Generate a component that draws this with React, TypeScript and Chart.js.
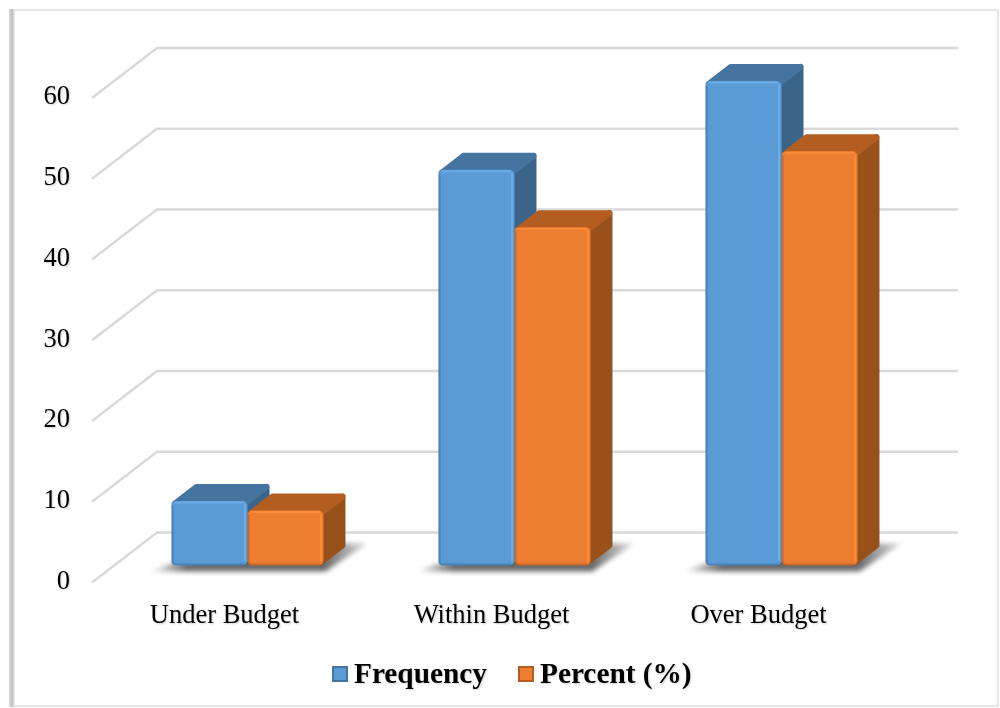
import React, { useEffect, useRef } from "react";
import { Chart, registerables } from "chart.js";

Chart.register(...registerables);

const categories = ["Under Budget", "Within Budget", "Over Budget"];
const frequency = [8, 49, 60];
const percent = [6.8, 41.9, 51.3];
const yTicks = [0, 10, 20, 30, 40, 50, 60];

const SERIF = '"Liberation Serif", serif';
const DEPTH_X = 23;
const DEPTH_Y = 18;
const WALL_X = 65;
const WALL_Y = 50;
const FLOOR_DROP = 17;

const palette = [
  {
    front: "#5b9bd5",
    top: "#44749f",
    side: "#3c6489",
    light: "rgba(112,180,240,0.7)",
    dark: "rgba(58,110,160,0.55)",
  },
  {
    front: "#ed7d31",
    top: "#b35e20",
    side: "#99511a",
    light: "rgba(255,146,60,0.75)",
    dark: "rgba(176,88,30,0.55)",
  },
];

// Outer frame of the figure.
const framePlugin = {
  id: "frame",
  beforeDraw(chart: any) {
    const { ctx } = chart;
    ctx.save();
    ctx.fillStyle = "#e6e6e6";
    ctx.fillRect(10, 9, 988, 2);
    ctx.fillRect(997, 9, 2, 698);
    ctx.fillRect(10, 705, 988, 2);
    const g = ctx.createLinearGradient(9, 0, 15, 0);
    g.addColorStop(0, "#e0e0e0");
    g.addColorStop(0.5, "#bdbdbd");
    g.addColorStop(1, "#f0f0f0");
    ctx.fillStyle = g;
    ctx.fillRect(9, 9, 6, 698);
    ctx.restore();
    // soft shadow behind the axis text
    ctx.save();
    ctx.shadowColor = "rgba(0,0,0,0.2)";
    ctx.shadowBlur = 2;
    ctx.shadowOffsetX = 1;
    ctx.shadowOffsetY = 1;
  },
};

// Back wall, side wall, floor shadows and the depth faces of each bar.
const depthPlugin = {
  id: "depth",
  beforeDatasetsDraw(chart: any) {
    const { ctx, chartArea, scales } = chart;
    ctx.restore();
    ctx.save();
    ctx.strokeStyle = "#d9d9d9";
    ctx.lineWidth = 2.4;
    ctx.lineJoin = "miter";
    yTicks.forEach((v) => {
      const fy = scales.y.getPixelForValue(v) + FLOOR_DROP;
      const fx = chartArea.left - 22;
      ctx.beginPath();
      ctx.moveTo(fx, fy);
      ctx.lineTo(fx + WALL_X, fy - WALL_Y);
      ctx.lineTo(958, fy - WALL_Y);
      ctx.stroke();
    });
    ctx.restore();

    const metas = [chart.getDatasetMeta(0), chart.getDatasetMeta(1)];

    categories.forEach((_, i) => {
      const a = metas[0].data[i];
      const b = metas[1].data[i];
      const x0 = a.x - a.width / 2;
      const x1 = b.x + b.width / 2;
      const base = a.base;
      ctx.save();
      ctx.filter = "blur(2.5px)";
      const g = ctx.createLinearGradient(x0 - 24, 0, x1 + 44, 0);
      g.addColorStop(0, "rgba(105,105,105,0)");
      g.addColorStop(0.18, "rgba(105,105,105,1)");
      g.addColorStop(0.8, "rgba(105,105,105,1)");
      g.addColorStop(1, "rgba(105,105,105,0.2)");
      ctx.fillStyle = g;
      ctx.beginPath();
      ctx.moveTo(x0 - 22, base + 6);
      ctx.lineTo(x1 + 2, base + 6);
      ctx.lineTo(x1 + 44, base - 22);
      ctx.lineTo(x1, base - 22);
      ctx.lineTo(x0, base - 2);
      ctx.closePath();
      ctx.fill();
      ctx.restore();
    });

    ctx.save();
    ctx.lineJoin = "round";
    ctx.lineWidth = 6;
    metas.forEach((meta, d) => {
      const c = palette[d];
      meta.data.forEach((el: any) => {
        const l = el.x - el.width / 2 + 3;
        const r = el.x + el.width / 2 - 3;
        const t = el.y + 3;
        const bt = el.base - 3;
        ctx.fillStyle = c.side;
        ctx.strokeStyle = c.side;
        ctx.beginPath();
        ctx.moveTo(r, t);
        ctx.lineTo(r + DEPTH_X - 1, t - DEPTH_Y + 1);
        ctx.lineTo(r + DEPTH_X - 1, bt - DEPTH_Y + 1);
        ctx.lineTo(r, bt);
        ctx.closePath();
        ctx.fill();
        ctx.stroke();
        ctx.fillStyle = c.top;
        ctx.strokeStyle = c.top;
        ctx.beginPath();
        ctx.moveTo(l, t);
        ctx.lineTo(l + DEPTH_X - 1, t - DEPTH_Y + 1);
        ctx.lineTo(r + DEPTH_X - 1, t - DEPTH_Y + 1);
        ctx.lineTo(r, t);
        ctx.closePath();
        ctx.fill();
        ctx.stroke();
      });
    });
    ctx.restore();
  },
  // Bevelled edges on the front faces, then the legend.
  afterDatasetsDraw(chart: any) {
    const { ctx } = chart;
    ctx.save();
    [0, 1].forEach((d) => {
      const c = palette[d];
      chart.getDatasetMeta(d).data.forEach((el: any) => {
        const l = el.x - el.width / 2;
        const r = el.x + el.width / 2 - 1;
        ctx.lineWidth = 2;
        ctx.lineCap = "round";
        ctx.strokeStyle = c.light;
        ctx.beginPath();
        ctx.moveTo(l + 4, el.y + 1.5);
        ctx.lineTo(r - 3, el.y + 1.5);
        ctx.moveTo(r - 1.5, el.y + 4);
        ctx.lineTo(r - 1.5, el.base - 5);
        ctx.stroke();
        ctx.strokeStyle = c.dark;
        ctx.beginPath();
        ctx.moveTo(l + 1, el.y + 5);
        ctx.lineTo(l + 1, el.base - 4);
        ctx.quadraticCurveTo(l + 1, el.base - 1, l + 4, el.base - 1);
        ctx.lineTo(r - 3, el.base - 1);
        ctx.stroke();
      });
    });
    ctx.restore();

    const entries = [
      { boxX: 332, textX: 354 },
      { boxX: 518, textX: 540 },
    ];
    ctx.save();
    ctx.shadowColor = "rgba(0,0,0,0.18)";
    ctx.shadowBlur = 2;
    ctx.shadowOffsetX = 1;
    ctx.shadowOffsetY = 1;
    ctx.font = `bold 29.3px ${SERIF}`;
    ctx.fillStyle = "#000";
    ctx.textBaseline = "alphabetic";
    entries.forEach((e, d) => {
      ctx.fillText(chart.data.datasets[d].label, e.textX, 683);
    });
    ctx.shadowColor = "transparent";
    entries.forEach((e, d) => {
      const c = palette[d];
      ctx.fillStyle = c.top;
      ctx.fillRect(e.boxX, 666, 16, 16);
      ctx.fillStyle = c.front;
      ctx.fillRect(e.boxX + 2, 668, 12, 12);
    });
    ctx.restore();
  },
};

export default function App() {
  const ref = useRef<HTMLCanvasElement>(null);

  useEffect(() => {
    const chart = new Chart(ref.current as HTMLCanvasElement, {
      type: "bar",
      data: {
        labels: categories,
        datasets: [
          {
            label: "Frequency",
            data: frequency,
            backgroundColor: palette[0].front,
            borderRadius: 5,
            borderSkipped: false,
          },
          {
            label: "Percent (%)",
            data: percent,
            backgroundColor: palette[1].front,
            borderRadius: 5,
            borderSkipped: false,
          },
        ],
      },
      options: {
        responsive: false,
        animation: false,
        devicePixelRatio: 1,
        layout: { padding: { left: 0, right: 85, top: 81, bottom: 0 } },
        datasets: { bar: { categoryPercentage: 0.569, barPercentage: 1 } },
        plugins: {
          legend: { display: false },
          title: { display: false },
          tooltip: { enabled: false },
        },
        scales: {
          x: {
            grid: { display: false },
            border: { display: false },
            afterFit: (s: any) => {
              s.height = 142.5;
            },
            ticks: {
              color: "#000",
              padding: 27,
              labelOffset: -23,
              maxRotation: 0,
              font: { family: SERIF, size: 26.5 },
            },
          },
          y: {
            min: 0,
            max: 60,
            grid: { display: false },
            border: { display: false },
            afterFit: (s: any) => {
              s.width = 114;
            },
            afterBuildTicks: (s: any) => {
              s.ticks = yTicks.map((value) => ({ value }));
            },
            ticks: {
              color: "#000",
              padding: 36,
              labelOffset: 16.5,
              font: { family: SERIF, size: 26.5 },
            },
          },
        },
      },
      plugins: [framePlugin, depthPlugin],
    } as any);
    return () => chart.destroy();
  }, []);

  return (
    <canvas
      ref={ref}
      width={1000}
      height={708}
      style={{ position: "absolute", left: 0, top: 0, width: 1000, height: 708, background: "#fff" }}
    />
  );
}
